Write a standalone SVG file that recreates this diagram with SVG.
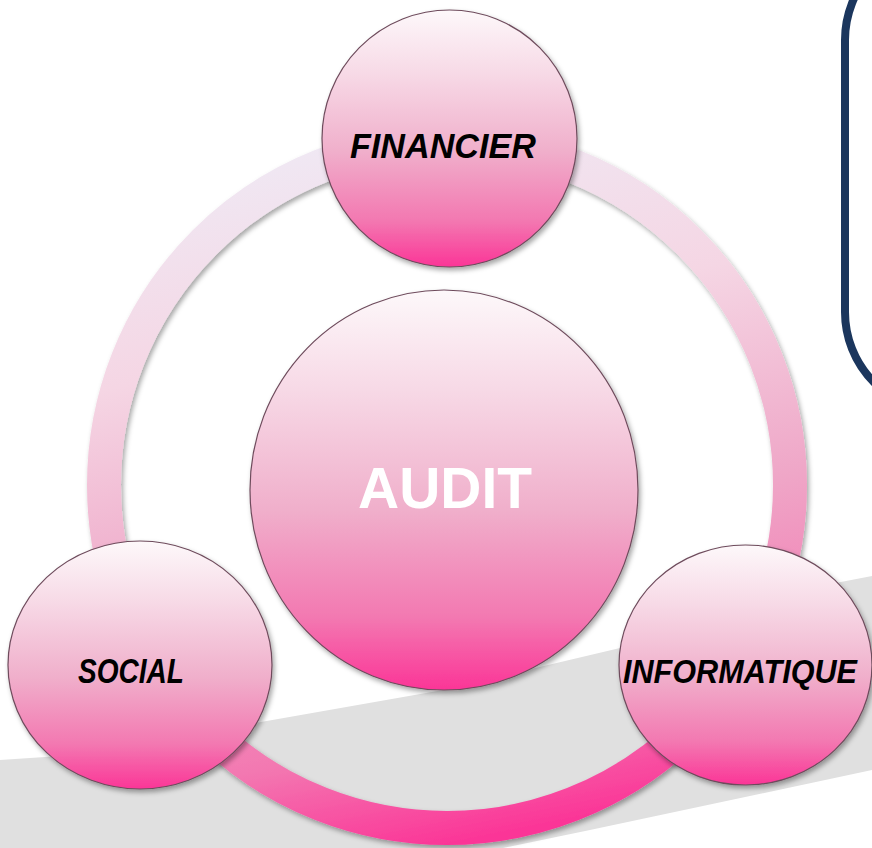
<svg xmlns="http://www.w3.org/2000/svg" width="872" height="848" viewBox="0 0 872 848">
  <defs>
    <linearGradient id="ballGrad" x1="0" y1="0" x2="0" y2="1">
      <stop offset="0" stop-color="#fdf8fa"/>
      <stop offset="0.25" stop-color="#f7d9e6"/>
      <stop offset="0.55" stop-color="#f0afcb"/>
      <stop offset="0.82" stop-color="#f378b1"/>
      <stop offset="1" stop-color="#fb3597"/>
    </linearGradient>
    <linearGradient id="ringGrad" gradientUnits="userSpaceOnUse" x1="300" y1="125" x2="447" y2="845">
      <stop offset="0" stop-color="#efeaf5"/>
      <stop offset="0.3" stop-color="#f5d6e4"/>
      <stop offset="0.6" stop-color="#efa6c7"/>
      <stop offset="0.85" stop-color="#f378b1"/>
      <stop offset="1" stop-color="#fb3597"/>
    </linearGradient>
    <filter id="shadow" x="-10%" y="-10%" width="125%" height="125%">
      <feDropShadow dx="2" dy="3" stdDeviation="2.5" flood-color="#000" flood-opacity="0.35"/>
    </filter>
  </defs>
  <style>
    .ball { fill: url(#ballGrad); stroke: #6e4b5c; stroke-width: 1.2; filter: url(#shadow); }
    .lbl { font-family: "Liberation Sans", Arial, sans-serif; font-weight: bold; font-style: italic; fill: #000; text-anchor: middle; }
    .center { font-family: "Liberation Sans", Arial, sans-serif; font-weight: bold; fill: #fff; text-anchor: middle; }
  </style>
  <rect width="872" height="848" fill="#fff"/>
  <g id="floor-shadow">
    <path d="M0,760 L120,752 L261,722 L443,690 L620,648 L820,586 L872,576 L872,770 L590,830 L300,890 L0,890 Z" fill="#e0e0e0"/>
  </g>
  <g id="side-box">
    <rect x="845" y="-60" width="240" height="472" rx="100" ry="100" fill="#fff" stroke="#1b365d" stroke-width="8"/>
  </g>
  <g id="connectors">
    <circle cx="447" cy="485" r="343" fill="none" stroke="url(#ringGrad)" stroke-width="34" filter="url(#shadow)"/>
  </g>
  <g id="node-audit">
    <ellipse class="ball" cx="444" cy="490" rx="194" ry="200"/>
    <text class="center" x="445" y="508" font-size="57" textLength="174" lengthAdjust="spacingAndGlyphs">AUDIT</text>
  </g>
  <g id="node-financier">
    <ellipse class="ball" cx="449.5" cy="138.5" rx="127.5" ry="128.5"/>
    <text class="lbl" x="443" y="158" font-size="35" textLength="186" lengthAdjust="spacingAndGlyphs">FINANCIER</text>
  </g>
  <g id="node-social">
    <ellipse class="ball" cx="140" cy="665" rx="132" ry="124"/>
    <text class="lbl" x="131" y="683" font-size="35" textLength="106" lengthAdjust="spacingAndGlyphs">SOCIAL</text>
  </g>
  <g id="node-informatique">
    <ellipse class="ball" cx="745.5" cy="665" rx="126.5" ry="120"/>
    <text class="lbl" x="740" y="683" font-size="34" textLength="234" lengthAdjust="spacingAndGlyphs">INFORMATIQUE</text>
  </g>
</svg>
